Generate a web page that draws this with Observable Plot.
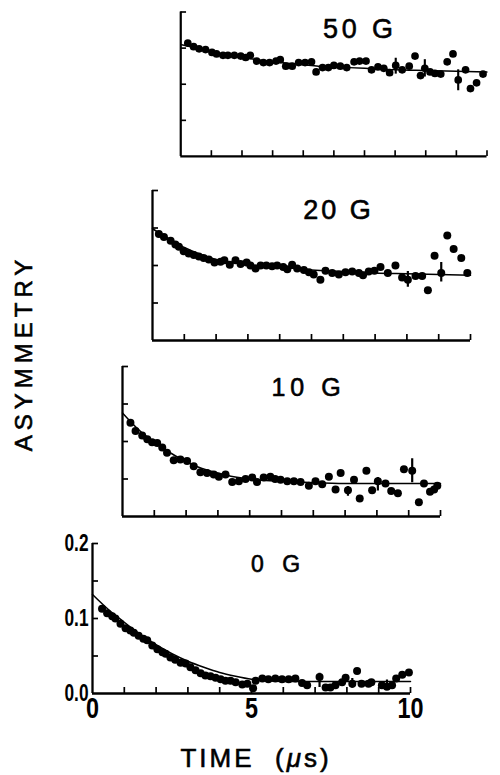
<!DOCTYPE html>
<html><head><meta charset="utf-8">
<script src="https://cdn.jsdelivr.net/npm/d3@7"></script>
<script src="https://cdn.jsdelivr.net/npm/@observablehq/plot@0.6"></script>
<style>
html,body{margin:0;padding:0;background:#fff;overflow:hidden}
#wrap{position:relative;width:500px;height:775px;font-family:"Liberation Sans",Arial,Helvetica,sans-serif;color:#000}
.panel{position:absolute}
.panel svg{overflow:visible;display:block}
.ttl{position:absolute;white-space:nowrap;color:#000;-webkit-text-stroke:0.6px #000;line-height:1}
</style></head><body><div id="wrap"></div>
<script>
// ---- data ----
const panelLabels = ["50 G", "20 G", "10 G", "0 G"];
const xTicks = [1,2,3,4,5,6,7,8,9,10];
const yTicks = [0.05,0.1,0.15,0.2];
const xTickLabels = [0,5,10];
const yTickLabels = [0.0,0.1,0.2];
const fitTime = [0,0.5,1,1.5,2,2.5,3,3.5,4,4.5,5,6,7,8,9,10];

const time0 = [0.30,0.46,0.62,0.72,0.88,1.04,1.19,1.30,1.45,1.60,1.72,1.88,2.04,2.20,2.30,2.45,2.60,2.77,2.93,3.08,3.24,3.40,3.55,3.71,3.87,4.03,4.18,4.34,4.50,4.71,4.87,5.05,5.13,5.34,5.53,5.75,5.96,6.17,6.38,6.59,6.75,7.14,7.33,7.48,7.64,7.85,7.96,8.17,8.32,8.46,8.68,8.77,9.10,9.26,9.42,9.55,9.74,9.95];
const asym0 = [0.113,0.107,0.103,0.100,0.093,0.087,0.084,0.081,0.077,0.073,0.071,0.064,0.059,0.055,0.053,0.048,0.045,0.041,0.040,0.035,0.031,0.027,0.024,0.023,0.021,0.019,0.017,0.017,0.015,0.012,0.013,0.007,0.017,0.020,0.019,0.020,0.019,0.019,0.020,0.014,0.011,0.022,0.008,0.008,0.011,0.015,0.021,0.013,0.030,0.013,0.013,0.015,0.011,0.009,0.011,0.020,0.025,0.028];
const fit0 = [0.132,0.112,0.095,0.079,0.065,0.053,0.043,0.035,0.028,0.023,0.019,0.016,0.016,0.016,0.016,0.016];
const errTime0 = [7.14,8.17,9.26], errLo0 = [0.008,0.007,0.008], errHi0 = [0.027,0.020,0.018];

const time10 = [0.25,0.41,0.62,0.78,0.93,1.09,1.25,1.40,1.61,1.82,2.03,2.24,2.45,2.66,2.87,3.03,3.24,3.45,3.66,3.87,4.08,4.23,4.44,4.65,4.80,4.97,5.18,5.39,5.60,5.86,6.07,6.28,6.49,6.70,6.86,7.09,7.28,7.46,7.67,7.85,8.03,8.27,8.45,8.66,8.85,9.11,9.32,9.48,9.67,9.80,9.90];
const asym10 = [0.125,0.114,0.108,0.103,0.099,0.098,0.092,0.085,0.075,0.076,0.074,0.067,0.059,0.058,0.056,0.053,0.056,0.046,0.047,0.050,0.052,0.046,0.052,0.053,0.050,0.049,0.047,0.047,0.046,0.041,0.047,0.043,0.053,0.036,0.058,0.035,0.049,0.024,0.061,0.035,0.047,0.044,0.034,0.031,0.063,0.061,0.019,0.044,0.033,0.036,0.041];
const fit10 = [0.138,0.116,0.099,0.085,0.073,0.064,0.058,0.053,0.050,0.048,0.047,0.045,0.044,0.044,0.044,0.044];
const errTime10 = [7.09,8.03,9.11], errLo10 = [0.027,0.034,0.045], errHi10 = [0.040,0.052,0.077];

const time20 = [0.20,0.36,0.57,0.72,0.83,0.98,1.14,1.30,1.46,1.61,1.77,1.95,2.14,2.26,2.43,2.61,2.77,2.96,3.08,3.24,3.40,3.58,3.76,3.92,4.11,4.24,4.39,4.55,4.76,4.92,5.07,5.28,5.44,5.65,5.86,6.07,6.28,6.49,6.62,6.80,6.98,7.17,7.40,7.64,7.85,8.03,8.27,8.48,8.66,8.87,9.08,9.27,9.47,9.71,9.90];
const asym20 = [0.142,0.138,0.133,0.128,0.125,0.119,0.116,0.114,0.112,0.110,0.108,0.104,0.105,0.107,0.101,0.107,0.102,0.104,0.100,0.096,0.100,0.100,0.099,0.100,0.098,0.095,0.101,0.096,0.094,0.091,0.088,0.081,0.093,0.090,0.088,0.091,0.092,0.090,0.087,0.092,0.093,0.098,0.090,0.100,0.084,0.081,0.086,0.086,0.067,0.113,0.090,0.140,0.122,0.110,0.090];
const fit20 = [0.149,0.136,0.124,0.115,0.108,0.104,0.101,0.099,0.097,0.096,0.094,0.092,0.090,0.089,0.088,0.087];
const errTime20 = [8.03,9.08], errLo20 = [0.071,0.078], errHi20 = [0.092,0.104];

const time50 = [0.23,0.42,0.60,0.81,1.02,1.17,1.38,1.54,1.75,1.96,2.12,2.27,2.48,2.70,2.90,3.11,3.25,3.43,3.64,3.85,4.06,4.27,4.42,4.63,4.82,5.00,5.21,5.42,5.66,5.84,6.05,6.23,6.44,6.63,6.82,7.02,7.23,7.46,7.65,7.83,7.97,8.14,8.30,8.49,8.70,8.89,9.06,9.30,9.46,9.66,9.87];
const asym50 = [0.157,0.152,0.149,0.148,0.144,0.142,0.140,0.140,0.140,0.139,0.137,0.140,0.132,0.130,0.130,0.132,0.134,0.125,0.125,0.130,0.130,0.131,0.117,0.123,0.123,0.126,0.125,0.123,0.131,0.132,0.132,0.120,0.124,0.122,0.116,0.126,0.120,0.125,0.139,0.112,0.122,0.117,0.115,0.114,0.131,0.142,0.106,0.120,0.094,0.102,0.114];
const fit50 = [0.155,0.150,0.145,0.141,0.137,0.134,0.131,0.129,0.127,0.125,0.124,0.122,0.120,0.119,0.118,0.117];
const errTime50 = [7.02,7.97,9.06], errLo50 = [0.114,0.110,0.091], errHi50 = [0.136,0.134,0.120];

// ---- layout ----
const PW = 318, PH = 150;
const FONT = '"Liberation Sans",Arial,sans-serif';
const panels = [
  {label: panelLabels[0], t: time50, a: asym50, fit: fit50, et: errTime50, lo: errLo50, hi: errHi50, x0: 181, y0: 163, fs: 28, ls: 4, dy: 27, first: false},
  {label: panelLabels[1], t: time20, a: asym20, fit: fit20, et: errTime20, lo: errLo20, hi: errHi20, x0: 152, y0: 340, fs: 27, ls: 3, dy: 28, first: false},
  {label: panelLabels[2], t: time10, a: asym10, fit: fit10, et: errTime10, lo: errLo10, hi: errHi10, x0: 122, y0: 515.5, fs: 25, ls: 5, dy: 29, first: false},
  {label: panelLabels[3], t: time0, a: asym0, fit: fit0, et: errTime0, lo: errLo0, hi: errHi0, x0: 92, y0: 693, fs: 23, ls: 6, dy: 28, first: true}
];

function squeeze(node, s) {
  const tr = node.getAttribute("transform");
  if (tr) node.setAttribute("transform", tr + ` scale(${s},1)`);
  else {
    const x = +node.getAttribute("x") || 0, y = +node.getAttribute("y") || 0;
    node.removeAttribute("x"); node.removeAttribute("y");
    node.setAttribute("transform", `translate(${x},${y}) scale(${s},1)`);
  }
}

const wrap = document.getElementById("wrap");
for (const p of panels) {
  const ml = p.first ? 70 : 20, mr = 14, mt = 40, mb = p.first ? 40 : 10;
  const pts = p.t.map((d, i) => ({t: d, a: p.a[i]}));
  const fit = fitTime.map((d, i) => ({t: d, a: p.fit[i]}));
  const err = p.et.map((d, i) => ({t: d, lo: p.lo[i], hi: p.hi[i]}));
  const marks = [
    Plot.ruleY([0], {x1: 0, x2: 10, strokeWidth: 2.3}),
    Plot.ruleX([0], {y1: 0, y2: 0.2, strokeWidth: 2.3}),
    Plot.ruleX(xTicks, {x: d => d, y1: 0, y2: 0, insetTop: -6, strokeWidth: 1.7}),
    Plot.ruleY(yTicks, {y: d => d, x1: 0, x2: 0, insetRight: -6, strokeWidth: 1.7}),
    Plot.line(fit, {x: "t", y: "a", curve: "monotone-x", strokeWidth: 1.5}),
    Plot.ruleX(err, {x: "t", y1: "lo", y2: "hi", strokeWidth: 2.2}),
    Plot.dot(pts, {x: "t", y: "a", r: 4, fill: "black", stroke: "none"}),
    Plot.text([p.label], {frameAnchor: "top", dx: 27, dy: p.dy, lineAnchor: "bottom", fontSize: p.fs, fontFamily: FONT, fill: "black", stroke: "black", strokeWidth: 0.6})
  ];
  if (p.first) {
    marks.push(Plot.text(xTickLabels, {x: d => d, y: 0, text: d => String(d), dy: 3, lineAnchor: "top", fontSize: 30, fontWeight: "bold", fontFamily: FONT, fill: "black"}));
    marks.push(Plot.text(yTickLabels, {x: 0, y: d => d, text: d => d.toFixed(1), textAnchor: "end", dx: -4, dy: 0, fontSize: 24, fontWeight: "bold", fontFamily: FONT, fill: "black"}));
  }
  const svg = Plot.plot({
    width: ml + PW + mr, height: mt + PH + mb,
    marginLeft: ml, marginRight: mr, marginTop: mt, marginBottom: mb,
    x: {domain: [0, 10], axis: null},
    y: {domain: [0, 0.2], axis: null},
    style: {background: "transparent", color: "black", overflow: "visible"},
    marks
  });
  d3.select(svg).selectAll("text").each(function() {
    const s = this.textContent;
    if (s === p.label) this.style.letterSpacing = p.ls + "px";
    else if (p.first && ["0", "5", "10"].includes(s)) squeeze(this, 0.78);
    else if (p.first && ["0.0", "0.1", "0.2"].includes(s)) squeeze(this, 0.72);
  });
  const div = document.createElement("div");
  div.className = "panel";
  div.style.left = (p.x0 - ml) + "px";
  div.style.top = (p.y0 - PH - mt) + "px";
  div.appendChild(svg);
  wrap.appendChild(div);
}

const yt = document.createElement("div");
yt.className = "ttl";
yt.textContent = "ASYMMETRY";
Object.assign(yt.style, {left: "24px", top: "353px", fontSize: "24px", letterSpacing: "5px", transform: "translate(-50%,-50%) rotate(-90deg)"});
wrap.appendChild(yt);

const xt = document.createElement("div");
xt.className = "ttl";
xt.innerHTML = 'TIME&nbsp; (<i>\u03bc</i>s)';
Object.assign(xt.style, {left: "256px", top: "745px", fontSize: "26px", letterSpacing: "3px", transform: "translateX(-50%)"});
wrap.appendChild(xt);
</script></body></html>
